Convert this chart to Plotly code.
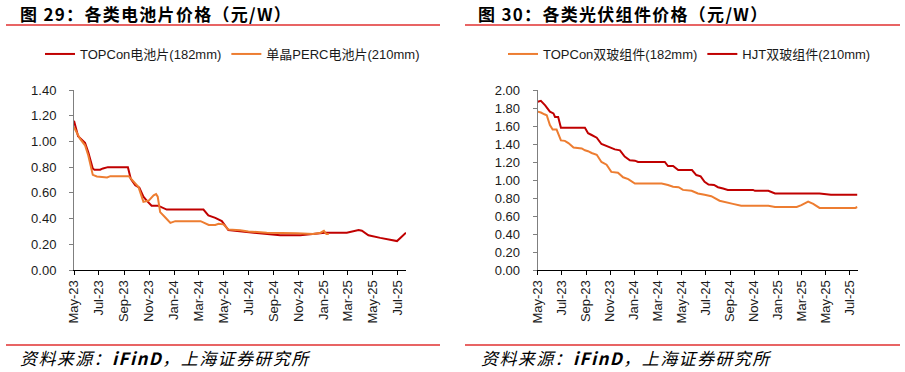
import plotly.graph_objects as go

# ---------------- data ----------------
cell_topcon_dates = ["2023-05-01", "2023-05-11", "2023-05-28", "2023-06-05", "2023-06-16", "2023-06-20",
                     "2023-07-04", "2023-07-11", "2023-07-23", "2023-09-10", "2023-09-17", "2023-09-23",
                     "2023-09-28", "2023-10-08", "2023-10-18", "2023-10-26", "2023-11-07", "2023-11-23",
                     "2023-12-14", "2024-03-13", "2024-03-25", "2024-04-11", "2024-04-27", "2024-05-13",
                     "2024-06-11", "2024-07-05", "2024-08-15", "2024-09-17", "2024-11-05", "2024-12-16",
                     "2025-01-05", "2025-02-27", "2025-03-28", "2025-04-05", "2025-04-21", "2025-05-20",
                     "2025-06-09", "2025-06-30", "2025-07-22"]
cell_topcon_vals = [1.16, 1.04, 0.99, 0.915, 0.79, 0.78,
                    0.78, 0.79, 0.80, 0.80, 0.71, 0.68,
                    0.66, 0.64, 0.57, 0.54, 0.50, 0.50,
                    0.47, 0.47, 0.425, 0.405, 0.38, 0.31,
                    0.30, 0.29, 0.28, 0.27, 0.27, 0.28,
                    0.29, 0.29, 0.31, 0.305, 0.27, 0.25,
                    0.24, 0.225, 0.29]

cell_perc_dates = ["2023-05-01", "2023-05-16", "2023-05-28", "2023-06-05", "2023-06-16", "2023-06-26",
                   "2023-07-21", "2023-07-29", "2023-09-12", "2023-09-20", "2023-10-06", "2023-10-18",
                   "2023-10-31", "2023-11-12", "2023-11-18", "2023-11-22", "2023-11-28", "2023-12-10",
                   "2023-12-23", "2024-01-04", "2024-03-06", "2024-03-26", "2024-04-11", "2024-04-19",
                   "2024-05-01", "2024-05-13", "2024-06-11", "2024-07-01", "2024-08-15", "2024-10-28",
                   "2024-12-07", "2024-12-25", "2025-01-02", "2025-01-08", "2025-01-14"]
cell_perc_vals = [1.11, 1.02, 0.97, 0.89, 0.74, 0.727,
                  0.72, 0.73, 0.73, 0.70, 0.645, 0.53,
                  0.54, 0.58, 0.59, 0.57, 0.45, 0.41,
                  0.366, 0.38, 0.38, 0.35, 0.35, 0.36,
                  0.355, 0.315, 0.31, 0.30, 0.29, 0.285,
                  0.28, 0.29, 0.305, 0.28, 0.28]

mod_topcon_dates = ["2023-05-01", "2023-05-09", "2023-05-18", "2023-05-24", "2023-06-01", "2023-06-08",
                    "2023-06-18", "2023-06-29", "2023-07-09", "2023-07-18", "2023-07-31", "2023-08-21",
                    "2023-08-29", "2023-09-06", "2023-09-15", "2023-09-28", "2023-10-10", "2023-10-23",
                    "2023-11-04", "2023-11-21", "2023-12-04", "2023-12-17", "2024-01-03", "2024-03-11",
                    "2024-03-27", "2024-04-09", "2024-04-23", "2024-05-04", "2024-05-26", "2024-06-11",
                    "2024-06-28", "2024-07-15", "2024-08-05", "2024-08-22", "2024-09-08", "2024-09-29",
                    "2024-12-07", "2024-12-24", "2025-02-17", "2025-03-01", "2025-03-18", "2025-03-31",
                    "2025-04-16", "2025-07-16", "2025-07-21"]
mod_topcon_vals = [1.76, 1.75, 1.73, 1.72, 1.61, 1.56,
                   1.56, 1.44, 1.435, 1.41, 1.36, 1.35,
                   1.33, 1.32, 1.30, 1.28, 1.20, 1.17,
                   1.09, 1.08, 1.03, 1.01, 0.96, 0.96,
                   0.945, 0.925, 0.92, 0.89, 0.88, 0.85,
                   0.835, 0.82, 0.77, 0.75, 0.735, 0.715,
                   0.715, 0.70, 0.70, 0.72, 0.76, 0.735,
                   0.69, 0.69, 0.70]

mod_hjt_dates = ["2023-05-01", "2023-05-09", "2023-05-20", "2023-06-01", "2023-06-10", "2023-06-14",
                 "2023-06-22", "2023-06-29", "2023-08-29", "2023-09-06", "2023-09-15", "2023-09-28",
                 "2023-10-10", "2023-10-23", "2023-10-31", "2023-11-13", "2023-11-26", "2023-12-08",
                 "2023-12-21", "2024-01-03", "2024-01-11", "2024-03-19", "2024-03-27", "2024-04-09",
                 "2024-04-22", "2024-05-27", "2024-06-07", "2024-06-18", "2024-06-28", "2024-07-08",
                 "2024-07-22", "2024-08-01", "2024-08-14", "2024-08-26", "2024-10-29", "2024-11-03",
                 "2024-12-07", "2024-12-24", "2025-04-16", "2025-04-28", "2025-05-15", "2025-07-21"]
mod_hjt_vals = [1.87, 1.88, 1.83, 1.76, 1.74, 1.70,
                1.70, 1.58, 1.58, 1.52, 1.50, 1.47,
                1.40, 1.38, 1.36, 1.34, 1.33, 1.26,
                1.22, 1.215, 1.20, 1.20, 1.155, 1.155,
                1.11, 1.11, 1.055, 1.04, 0.98, 0.95,
                0.945, 0.92, 0.905, 0.89, 0.89, 0.88,
                0.88, 0.85, 0.85, 0.845, 0.835, 0.835]

left_yticks = [0.0, 0.2, 0.4, 0.6, 0.8, 1.0, 1.2, 1.4]
right_yticks = [0.0, 0.2, 0.4, 0.6, 0.8, 1.0, 1.2, 1.4, 1.6, 1.8, 2.0]

title_left = "图 29：各类电池片价格（元/W）"
title_right = "图 30：各类光伏组件价格（元/W）"
source_text = "资料来源：<b>iFinD</b>，上海证券研究所"

RED = "#C00000"
ORANGE = "#ED7D31"
FONT = "Liberation Sans, Arial, Noto Sans CJK SC, sans-serif"
CJK = "Noto Sans CJK SC, Liberation Sans, sans-serif"

W, H = 905, 372

fig = go.Figure()

fig.add_trace(go.Scatter(x=cell_topcon_dates, y=cell_topcon_vals, mode="lines",
                         name="TOPCon电池片(182mm)", line=dict(color=RED, width=2),
                         xaxis="x", yaxis="y", legend="legend"))
fig.add_trace(go.Scatter(x=cell_perc_dates, y=cell_perc_vals, mode="lines",
                         name="单晶PERC电池片(210mm)", line=dict(color=ORANGE, width=2),
                         xaxis="x", yaxis="y", legend="legend"))
fig.add_trace(go.Scatter(x=mod_topcon_dates, y=mod_topcon_vals, mode="lines",
                         name="TOPCon双玻组件(182mm)", line=dict(color=ORANGE, width=2),
                         xaxis="x2", yaxis="y2", legend="legend2"))
fig.add_trace(go.Scatter(x=mod_hjt_dates, y=mod_hjt_vals, mode="lines",
                         name="HJT双玻组件(210mm)", line=dict(color=RED, width=2),
                         xaxis="x2", yaxis="y2", legend="legend2"))

ydom = [(H - 270) / H, (H - 90) / H]
xr = ["2023-05-01", "2025-07-22"]

xcommon = dict(type="date", range=xr, tick0="2023-05-01", dtick="M2", tickformat="%b-%y",
               tickangle=-90, showgrid=False, zeroline=False, showline=True, linecolor="#000000",
               linewidth=1, ticks="outside", ticklen=4, tickcolor="#000000", automargin=False,
               tickfont=dict(family=FONT, size=13, color="#1a1a1a"))
ycommon = dict(showgrid=False, zeroline=False, showline=True, linecolor="#7f7f7f", linewidth=1,
               ticks="outside", ticklen=4, tickcolor="#7f7f7f", tickformat=".2f", automargin=False,
               tickfont=dict(family=FONT, size=13, color="#1a1a1a"), ticklabelstandoff=10)

fig.update_layout(
    width=W, height=H,
    margin=dict(l=0, r=0, t=0, b=0, autoexpand=False),
    paper_bgcolor="white", plot_bgcolor="white",
    font=dict(family=FONT, size=13, color="#1a1a1a"),
    xaxis=dict(domain=[74 / W, 406 / W], anchor="y", **xcommon),
    yaxis=dict(domain=ydom, anchor="x", range=[0, 1.4], tickvals=left_yticks, **ycommon),
    xaxis2=dict(domain=[537.7 / W, 857.7 / W], anchor="y2", **xcommon),
    yaxis2=dict(domain=ydom, anchor="x2", range=[0, 2.0], tickvals=right_yticks, **ycommon),
    legend=dict(orientation="h", x=40 / W, xanchor="left", y=(H - 54) / H, yanchor="middle",
                font=dict(family=FONT, size=13, color="#1a1a1a"), bgcolor="rgba(0,0,0,0)",
                itemwidth=30, tracegroupgap=0),
    legend2=dict(orientation="h", x=503 / W, xanchor="left", y=(H - 54) / H, yanchor="middle",
                 font=dict(family=FONT, size=13, color="#1a1a1a"), bgcolor="rgba(0,0,0,0)",
                 itemwidth=30, tracegroupgap=0),
    showlegend=True,
)

# titles
fig.add_annotation(text="<b>" + title_left + "</b>", x=18 / W, y=(H - 14) / H, xref="paper", yref="paper",
                   xanchor="left", yanchor="middle", align="left", showarrow=False,
                   font=dict(family=CJK, size=17, color="#000000"))
fig.add_annotation(text="<b>" + title_right + "</b>", x=476 / W, y=(H - 14) / H, xref="paper", yref="paper",
                   xanchor="left", yanchor="middle", align="left", showarrow=False,
                   font=dict(family=CJK, size=17, color="#000000"))

# sources
for sx in (18, 479):
    fig.add_annotation(text="<i>" + source_text + "</i>", x=sx / W, y=(H - 357) / H,
                       xref="paper", yref="paper", xanchor="left", yanchor="middle", align="left",
                       showarrow=False, font=dict(family=CJK, size=17, color="#000000"))

# red separator lines
for (x0, x1) in ((6, 440), (465, 900)):
    for yy in (25, 345):
        fig.add_shape(type="line", xref="paper", yref="paper", x0=x0 / W, x1=x1 / W,
                      y0=(H - yy) / H, y1=(H - yy) / H, line=dict(color="#E03030", width=1.5))

post = (
    "document.body.style.margin='0px';"
    "document.body.style.overflow='hidden';"
    "var els = document.querySelectorAll('.annotation-text');"
    "for (var i = 0; i < els.length; i++) "
    "els[i].style.letterSpacing = (els[i].textContent.indexOf('图') === 0) ? '1.3px' : '1.4px';"
)

fig.write_html("out.html", post_script=post, config={"displayModeBar": False})
